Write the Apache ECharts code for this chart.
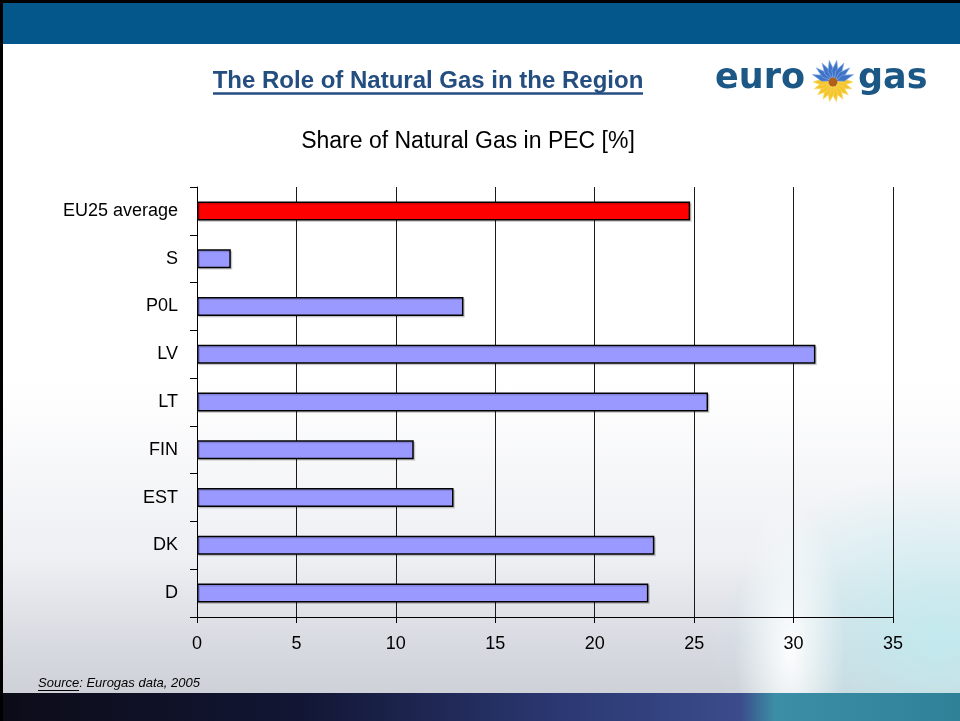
<!DOCTYPE html>
<html>
<head>
<meta charset="utf-8">
<script src="https://cdn.jsdelivr.net/npm/echarts@6/dist/echarts.min.js"></script>
<style>
  body { margin: 0; overflow: hidden; }
  .stage { position: relative; width: 960px; height: 721px; overflow: hidden; }
  .bg { position: absolute; }
  .body {
    left: 0; top: 0; width: 960px; height: 721px;
    background:
      radial-gradient(ellipse 55px 150px at 790px 650px, rgba(255,255,255,0.95), rgba(255,255,255,0)),
      radial-gradient(ellipse 230px 170px at 940px 640px, rgba(190,236,240,0.85), rgba(190,236,240,0)),
      linear-gradient(to bottom, #ffffff 0px, #ffffff 380px, #eeeff3 560px, #d9dbe2 640px, #cfd1d8 693px);
  }
  .header { left: 0; top: 0; width: 960px; height: 44px; background: #03578b; border-top: 3px solid #000; box-sizing: border-box; }
  .leftbar { left: 0; top: 0; width: 3px; height: 721px; background: #000; }
  .bottom {
    left: 0; top: 693px; width: 960px; height: 28px;
    background: linear-gradient(to right, #0c0c18 0px, #121634 300px, #2b3872 560px, #3b4c8c 740px, #3c8ea6 775px, #2f8198 960px);
  }
  #chart { position: absolute; left: 0; top: 0; width: 960px; height: 721px; }
</style>
</head>
<body>
<div class="stage">
  <div class="bg body"></div>
  <div class="bg header"></div>
  <div class="bg bottom"></div>
  <div class="bg leftbar"></div>
  <div id="chart"></div>
</div>
<script>
// bottom to top, as the category axis draws them
const categories = ['D', 'DK', 'EST', 'FIN', 'LT', 'LV', 'P0L', 'S', 'EU25 average'];
const shares = [22.7, 23.0, 12.9, 10.9, 25.7, 31.1, 13.4, 1.7, 24.8];
const xTicks = [0, 35, 5]; // min, max, interval

const font = '"Liberation Sans", Arial, sans-serif';
const blue = '#9999ff';
const red = '#ff0000';

// eurogas flower petals
const flowerX = 833, flowerY = 82;
const petals = [];
for (let i = 0; i < 18; i++) {
  const a = (i / 18) * Math.PI * 2;
  const dx = Math.cos(a), dy = Math.sin(a);
  const px = -dy, py = dx;
  const up = dy < -0.25;
  const len = up ? 22 : 20;
  petals.push({
    type: 'polygon',
    shape: {
      points: [
        [flowerX + dx * 3, flowerY + dy * 3],
        [flowerX + dx * 11 + px * 3.2, flowerY + dy * 11 + py * 3.2],
        [flowerX + dx * len, flowerY + dy * len],
        [flowerX + dx * 11 - px * 3.2, flowerY + dy * 11 - py * 3.2]
      ]
    },
    style: { fill: up ? '#3f73c8' : '#f4c52c', stroke: up ? '#8fb0e8' : '#f9dc6a', lineWidth: 0.6 }
  });
}

const chart = echarts.init(document.getElementById('chart'), null, { renderer: 'canvas' });

chart.setOption({
  backgroundColor: 'transparent',
  animation: false,
  grid: { left: 197, right: 67, top: 187, bottom: 104 },
  xAxis: {
    type: 'value',
    min: xTicks[0],
    max: xTicks[1],
    interval: xTicks[2],
    axisLine: { show: true, lineStyle: { color: '#000', width: 1 } },
    axisTick: { show: true, length: 6, lineStyle: { color: '#000' } },
    axisLabel: { color: '#000', fontSize: 18, fontFamily: font, margin: 18 },
    splitLine: { show: true, lineStyle: { color: '#1a1a1a', width: 1 } }
  },
  yAxis: {
    type: 'category',
    data: categories,
    axisLine: { show: true, lineStyle: { color: '#000', width: 1 } },
    axisTick: { show: true, length: 7, lineStyle: { color: '#000' } },
    axisLabel: { color: '#000', fontSize: 18, fontFamily: font, margin: 19 },
    splitLine: { show: false }
  },
  series: [{
    type: 'bar',
    barWidth: 19,
    data: shares.map((v, i) => ({
      value: v,
      itemStyle: { color: categories[i] === 'EU25 average' ? red : blue }
    })),
    itemStyle: {
      borderColor: '#000',
      borderWidth: 1.5,
      shadowColor: 'rgba(0,0,0,0.15)',
      shadowOffsetX: 1.5,
      shadowOffsetY: 1.5
    }
  }],
  graphic: [
    {
      type: 'text',
      style: {
        text: 'The Role of Natural Gas in the Region',
        x: 428, y: 81, align: 'center', verticalAlign: 'middle',
        font: 'bold 24px ' + font, fill: '#244d80'
      }
    },
    {
      type: 'line',
      shape: { x1: 213, y1: 93.5, x2: 643, y2: 93.5 },
      style: { stroke: '#244d80', lineWidth: 2.5 }
    },
    {
      type: 'text',
      style: {
        text: 'Share of Natural Gas in PEC [%]',
        x: 468, y: 142, align: 'center', verticalAlign: 'middle',
        font: '23px ' + font, fill: '#000'
      }
    },
    {
      type: 'text',
      style: {
        text: 'euro', x: 715, y: 79, align: 'left', verticalAlign: 'middle',
        font: 'bold 35px "DejaVu Sans", sans-serif', fill: '#1c5886'
      }
    },
    {
      type: 'text',
      style: {
        text: 'gas', x: 858, y: 79, align: 'left', verticalAlign: 'middle',
        font: 'bold 35px "DejaVu Sans", sans-serif', fill: '#1c5886'
      }
    },
    ...petals,
    {
      type: 'circle',
      shape: { cx: flowerX, cy: flowerY, r: 4.5 },
      style: { fill: '#b0601c' }
    },
    {
      type: 'text',
      style: {
        text: 'Source: Eurogas data, 2005', x: 38, y: 683, align: 'left', verticalAlign: 'middle',
        font: 'italic 13px ' + font, fill: '#000'
      }
    },
    {
      type: 'line',
      shape: { x1: 38, y1: 690.5, x2: 79, y2: 690.5 },
      style: { stroke: '#000', lineWidth: 1 }
    }
  ]
});
</script>
</body>
</html>
